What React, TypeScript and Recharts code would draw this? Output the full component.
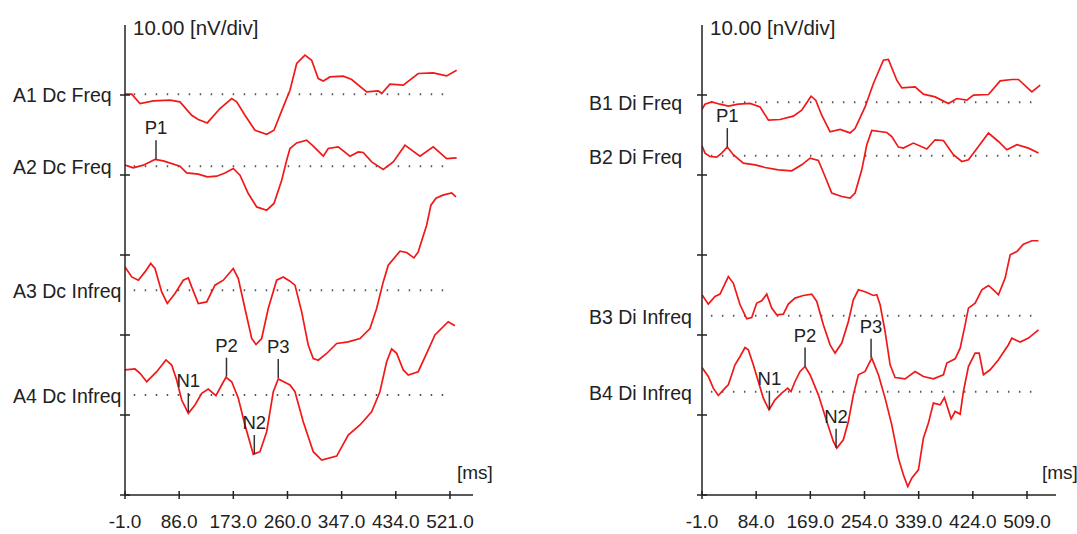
import React from "react";
import { ComposedChart, Line, Scatter, XAxis, YAxis, ReferenceLine, Label } from "recharts";

// waveforms: [ms, nV relative to the channel baseline]
const A1: [number, number][] = [
  [-1, 0], [9.8, 0], [23.1, -1.16], [44.5, -0.84], [71.3, -0.75], [87.3, -0.96], [106.1, -2.63], [116.7, -3.16],
  [131.2, -3.59], [151.6, -1.79], [170.4, -0.54], [178.4, -0.96], [191.7, -2.63], [207.8, -4.5], [226.6, -5.0],
  [238.3, -4.5], [253.2, -1.59], [264, 0.5], [274.8, 3.84], [288.1, 4.88], [298.8, 4.25], [309.4, 1.96],
  [317.5, 1.66], [328.2, 2.16], [349.6, 2.25], [363.1, 1.84], [387.2, 0.29], [405.8, 0.41], [411.3, 0.09],
  [424.6, 1.25], [446, 1.13], [470, 2.59], [494.1, 2.66], [515.6, 2.29], [531.7, 3.0]
];
const A2: [number, number][] = [
  [-1, 0.13], [12.3, -0.21], [28.4, 0.13], [47.2, 0.84], [60.5, 0.66], [87.3, 0], [98.1, -0.84], [116.7, -1.0],
  [131.2, -1.34], [146.3, -1.25], [159.6, -0.84], [172.9, -0.29], [183.7, -1.13], [197, -3.41], [210.5, -5.09],
  [226.6, -5.5], [238.3, -4.66], [250.7, -1.75], [258.7, 0.75], [264, 2.21], [274.8, 2.91], [290.8, 3.25],
  [301.4, 2.5], [317.5, 1.25], [325.5, 2.21], [341.6, 2.41], [360.4, 1.25], [373.7, 1.79], [381.7, 1.71],
  [395.2, 0.54], [413.8, -0.41], [429.9, 0.54], [448.7, 2.63], [472.8, 1.25], [494.1, 2.41], [515.6, 0.96],
  [531.7, 1.04]
];
const A3: [number, number][] = [
  [-1, 2.91], [9.8, 1.66], [20.4, 1.25], [31.1, 2.29], [40.3, 3.34], [47.2, 2.71], [57.9, -0.21], [66.9, -1.66],
  [79.3, -0.41], [92.6, 1.25], [100.7, 1.54], [106.1, 0.41], [116.7, -1.66], [130.2, -1.46], [143.5, 0.63],
  [156.9, 1.25], [172.9, 2.71], [181, 1.46], [191.7, -2.29], [202.5, -6.04], [209.4, -6.79], [218.5, -6.04],
  [229.1, -2.29], [242.6, 1.25], [253.2, 1.66], [264, 1.13], [272, 0.63], [282.8, -2.71], [293.4, -6.88],
  [301.4, -8.54], [309.4, -8.75], [322.9, -7.91], [339, -6.66], [357.6, -6.46], [376.4, -6.04], [392.5, -4.79],
  [403.2, -2.29], [413.8, 1.04], [421.9, 3.13], [440.7, 4.88], [451.4, 4.71], [463.1, 4.04], [470, 4.79],
  [483.5, 8.13], [490.4, 10.63], [498.5, 11.5], [509.7, 11.88], [523.7, 12.16], [530.6, 11.66]
];
const A4: [number, number][] = [
  [-1, 3.13], [15.1, 3.25], [23.1, 2.71], [33.9, 1.66], [49.9, 2.91], [64.8, 4.38], [74, 3.75], [82, 1.88],
  [90.1, -0.63], [100.7, -2.29], [111.4, -1.25], [122.2, 0.21], [132.8, 0.75], [145.1, -0.09], [154.3, 1.25],
  [161.2, 2.21], [170.4, 1.66], [181, -0.41], [191.7, -3.75], [205.1, -7.41], [215.8, -7.09], [226.6, -4.59],
  [237.2, 0.41], [245.2, 2.0], [258.7, 1.46], [264, 1.25], [272, 0.41], [285.3, -3.34], [301.4, -7.09],
  [314.9, -8.13], [339, -7.63], [357.6, -5.0], [376.4, -3.75], [395.2, -2.09], [408.5, 0.41], [419.3, 4.16],
  [427.3, 5.75], [435.4, 5.21], [446, 3.13], [454, 2.5], [470, 2.91], [483.5, 5.21], [496.9, 7.5], [518.2, 9.16],
  [529, 8.66]
];
const B1: [number, number][] = [
  [-1, -0.88], [3.7, -0.25], [14.2, 0.04], [27.3, -0.25], [40.3, -0.5], [56, -0.25], [74.4, -0.16], [90.1, -0.59],
  [103.2, -2.25], [121.5, -2.16], [142.3, -1.75], [155.5, -1.0], [170.1, 0.75], [177.5, 0.25], [186.9, -1.63],
  [200, -3.71], [215.7, -3.41], [231.4, -3.84], [239.2, -3.29], [254.9, -0.59], [268, 2.34], [283.6, 5.25],
  [291.5, 5.34], [304.7, 2.75], [312.5, 1.79], [333.4, 1.91], [346.4, 1.0], [364.8, 0.66], [385.7, -0.16],
  [398.9, 0.46], [414.6, 0.25], [425, 0.88], [448.5, 0.96], [466.9, 2.66], [485.2, 2.84], [495.6, 2.84],
  [516.6, 1.29], [529.7, 2.13]
];
const B2: [number, number][] = [
  [-1, 1.25], [3.7, 0.34], [11.6, -0.09], [22.1, -0.16], [29.9, 0.34], [38.7, 1.09], [48.1, 0.13], [63.8, -0.91],
  [82.2, -1.13], [97.9, -1.46], [118.8, -1.75], [139.8, -1.88], [155.5, -1.13], [168.6, -0.29], [181.6, -0.59],
  [192.1, -2.59], [202.6, -4.66], [218.3, -5.09], [231.4, -5.29], [239.2, -4.66], [249.7, -1.75], [257.6, 1.38],
  [265.4, 3.16], [289, 2.91], [296.8, 2.41], [307.2, 1.09], [315, 0.96], [330.7, 1.59], [351.8, 0.84], [364.8, 2.0],
  [377.8, 1.91], [393.5, 0.13], [406.7, -0.71], [417.1, -0.5], [432.8, 1.16], [448.5, 2.84], [464.2, 1.79],
  [477.4, 0.75], [493.1, 1.38], [511.3, 0.96], [527, 0.34]
];
const B3: [number, number][] = [
  [-1, 2.63], [8.9, 1.46], [19.4, 2.41], [27.3, 2.71], [40.3, 4.91], [48.1, 4.09], [58.7, 1.38], [69.2, -0.38],
  [77, -0.21], [84.9, 1.59], [92.7, 1.88], [100.6, 2.71], [108.4, 0.96], [116.3, 0.13], [126.6, 0.21], [134.5, 1.46],
  [145, 2.21], [158, 2.54], [171.2, 2.71], [179.1, 1.79], [189.4, -1.13], [200, -3.63], [207.8, -4.66],
  [218.3, -3.41], [228.7, -0.71], [236.5, 2.0], [244.4, 3.25], [254.9, 3.0], [268, 2.54], [273.3, 2.63],
  [278.5, 1.38], [286.3, -1.96], [294.2, -6.13], [302, -7.71], [317.7, -7.88], [333.4, -6.96], [346.4, -7.59],
  [362.1, -7.88], [377.8, -7.38], [383.2, -5.91], [396.2, -5.38], [404.1, -4.04], [411.9, -1.13], [417.1, 0.96],
  [427.6, 1.59], [438.1, 3.25], [448.5, 3.79], [456.3, 3.25], [464.2, 2.63], [474.7, 4.71], [482.6, 7.63],
  [493.1, 8.04], [503.4, 8.96], [516.6, 9.38], [527, 9.38]
];
const B4: [number, number][] = [
  [-1, 3.04], [8.9, 1.91], [16.7, 0.46], [24.6, -0.46], [35.1, 0.46], [40.3, 0.88], [50.8, 3.38], [58.7, 4.41],
  [66.5, 5.54], [71.7, 5.25], [79.5, 3.38], [87.4, 1.29], [95.2, -0.79], [104.2, -2.25], [113.6, -1.0],
  [124.1, -0.16], [133.5, 0.46], [138.7, 0.04], [145, 1.29], [152.9, 2.54], [160.7, 3.16], [168.6, 2.13],
  [181.6, -0.38], [194.8, -3.71], [205.1, -6.21], [210.5, -7.04], [220.8, -6.0], [228.7, -3.71], [236.5, -0.38],
  [244.4, 2.13], [254.9, 2.54], [265.4, 4.21], [275.8, 2.13], [286.3, -0.79], [296.8, -4.13], [307.2, -8.29],
  [315, -10.38], [321.9, -11.84], [328.2, -10.79], [338.6, -9.75], [346.4, -5.79], [354.3, -3.91], [362.1, -1.41],
  [372.7, -1.63], [379.4, -0.71], [389.9, -3.38], [396.2, -2.46], [404.1, -2.79], [409.2, 0.04], [417.1, 3.16],
  [427.6, 4.84], [433.9, 4.84], [440.6, 2.13], [451.2, 2.75], [464.2, 4.0], [479.9, 5.88], [485.2, 6.71],
  [498.3, 6.21], [511.3, 6.71], [527, 7.75]
];

const leftNames = ["A1 Dc Freq", "A2 Dc Freq", "A3 Dc Infreq", "A4 Dc Infreq"];
const rightNames = ["B1 Di Freq", "B2 Di Freq", "B3 Di Infreq", "B4 Di Infreq"];
const leftBase = [50.1, 41.1, 25.6, 12.5];
const rightBase = [49.1, 42.4, 22.4, 12.9];
const leftTicks = [-1, 86, 173, 260, 347, 434, 521];
const rightTicks = [-1, 84, 169, 254, 339, 424, 509];
const yTicks = [0, 10, 20, 30, 40, 50];

// peak markers: name, channel index, ms, nV relative to baseline
const leftPeaks: [string, number, number, number][] = [
  ["P1", 1, 48.8, 0.88], ["N1", 3, 100.7, -2.13], ["P2", 3, 162, 2.29], ["N2", 3, 206.7, -7.38], ["P3", 3, 245.2, 2.13]
];
const rightPeaks: [string, number, number, number][] = [
  ["P1", 1, 38.7, 1.09], ["N1", 3, 104.7, -2.25], ["P2", 3, 160.7, 3.16], ["N2", 3, 209.4, -7.0], ["P3", 3, 264.3, 4.25]
];

const FONT = "'Liberation Sans', Arial, sans-serif";
const RED = "#f01818";
const INK = "#222";

type PanelProps = {
  left: number;
  width: number;
  plotLeft: number;
  plotRight: number;
  xMax: number;
  traces: [number, number][][];
  names: string[];
  base: number[];
  ticks: number[];
  peaks: [string, number, number, number][];
  labelX: number;
  unitX: number;
  msX: number;
};

function Panel(p: PanelProps) {
  const markers = p.peaks.map(([name, ch, ms, v]) => ({ name, ms, v: p.base[ch] + v }));
  return (
    <div style={{ position: "absolute", left: p.left, top: 0 }}>
      <ComposedChart
        width={p.width}
        height={534}
        margin={{ top: 25, right: p.width - p.plotRight, bottom: 38, left: p.plotLeft - 1 }}
      >
        <XAxis
          type="number"
          dataKey="ms"
          domain={[-1, p.xMax]}
          allowDataOverflow
          ticks={p.ticks}
          height={1}
          tickSize={0}
          tickMargin={0}
          interval={0}
          axisLine={{ stroke: INK, strokeWidth: 1.5 }}
          tickLine={false}
          tick={(t: any) => (
            <g>
              <line x1={t.x} x2={t.x} y1={t.y - 4} y2={t.y + 4} stroke={INK} strokeWidth={1.5} />
              <text x={t.x} y={t.y + 33} textAnchor="middle" fontFamily={FONT} fontSize={19} fill={INK}>
                {Number(t.payload.value).toFixed(1)}
              </text>
            </g>
          )}
        >
          <Label
            content={() => (
              <text x={p.msX} y={479} fontFamily={FONT} fontSize={19} fill={INK}>
                [ms]
              </text>
            )}
          />
        </XAxis>
        <YAxis
          type="number"
          domain={[0, 58.75]}
          allowDataOverflow
          ticks={yTicks}
          width={1}
          tickSize={0}
          tickMargin={0}
          interval={0}
          axisLine={{ stroke: INK, strokeWidth: 1.5 }}
          tickLine={false}
          tick={(t: any) => <line x1={t.x - 5} x2={t.x + 5} y1={t.y} y2={t.y} stroke={INK} strokeWidth={1.5} />}
        >
          <Label
            content={() => (
              <text x={p.unitX} y={35} fontFamily={FONT} fontSize={20.5} fill={INK}>
                10.00 [nV/div]
              </text>
            )}
          />
        </YAxis>
        {p.base.map((b, i) => (
          <ReferenceLine
            key={"base" + i}
            segment={[{ x: 13, y: b }, { x: 519, y: b }]}
            stroke="#555"
            strokeWidth={2}
            strokeDasharray="1.5 9.5"
            ifOverflow="visible"
            label={(lp: any) => (
              <text x={p.labelX} y={lp.viewBox.y + 8} fontFamily={FONT} fontSize={19.5} fill={INK}>
                {p.names[i]}
              </text>
            )}
          />
        ))}
        {p.traces.map((tr, i) => (
          <Line
            key={p.names[i]}
            data={tr.map(([ms, v]) => ({ ms, v: p.base[i] + v }))}
            dataKey="v"
            type="linear"
            stroke={RED}
            strokeWidth={1.7}
            dot={false}
            activeDot={false}
            isAnimationActive={false}
          />
        ))}
        <Scatter
          data={markers}
          dataKey="v"
          isAnimationActive={false}
          shape={(s: any) => (
            <g>
              <line x1={s.cx} x2={s.cx} y1={s.cy} y2={s.cy - 19} stroke="#333" strokeWidth={1.5} />
              <text x={s.cx} y={s.cy - 25} textAnchor="middle" fontFamily={FONT} fontSize={18.5} fill={INK}>
                {s.payload.name}
              </text>
            </g>
          )}
        />
      </ComposedChart>
    </div>
  );
}

export default function App() {
  return (
    <div style={{ position: "absolute", left: 0, top: 0, width: 1077, height: 534, background: "#fff" }}>
      <Panel
        left={0}
        width={540}
        plotLeft={125}
        plotRight={473}
        xMax={558}
        traces={[A1, A2, A3, A4]}
        names={leftNames}
        base={leftBase}
        ticks={leftTicks}
        peaks={leftPeaks}
        labelX={13}
        unitX={133}
        msX={457}
      />
      <Panel
        left={540}
        width={537}
        plotLeft={162}
        plotRight={516}
        xMax={554.5}
        traces={[B1, B2, B3, B4]}
        names={rightNames}
        base={rightBase}
        ticks={rightTicks}
        peaks={rightPeaks}
        labelX={49}
        unitX={170}
        msX={502}
      />
    </div>
  );
}
